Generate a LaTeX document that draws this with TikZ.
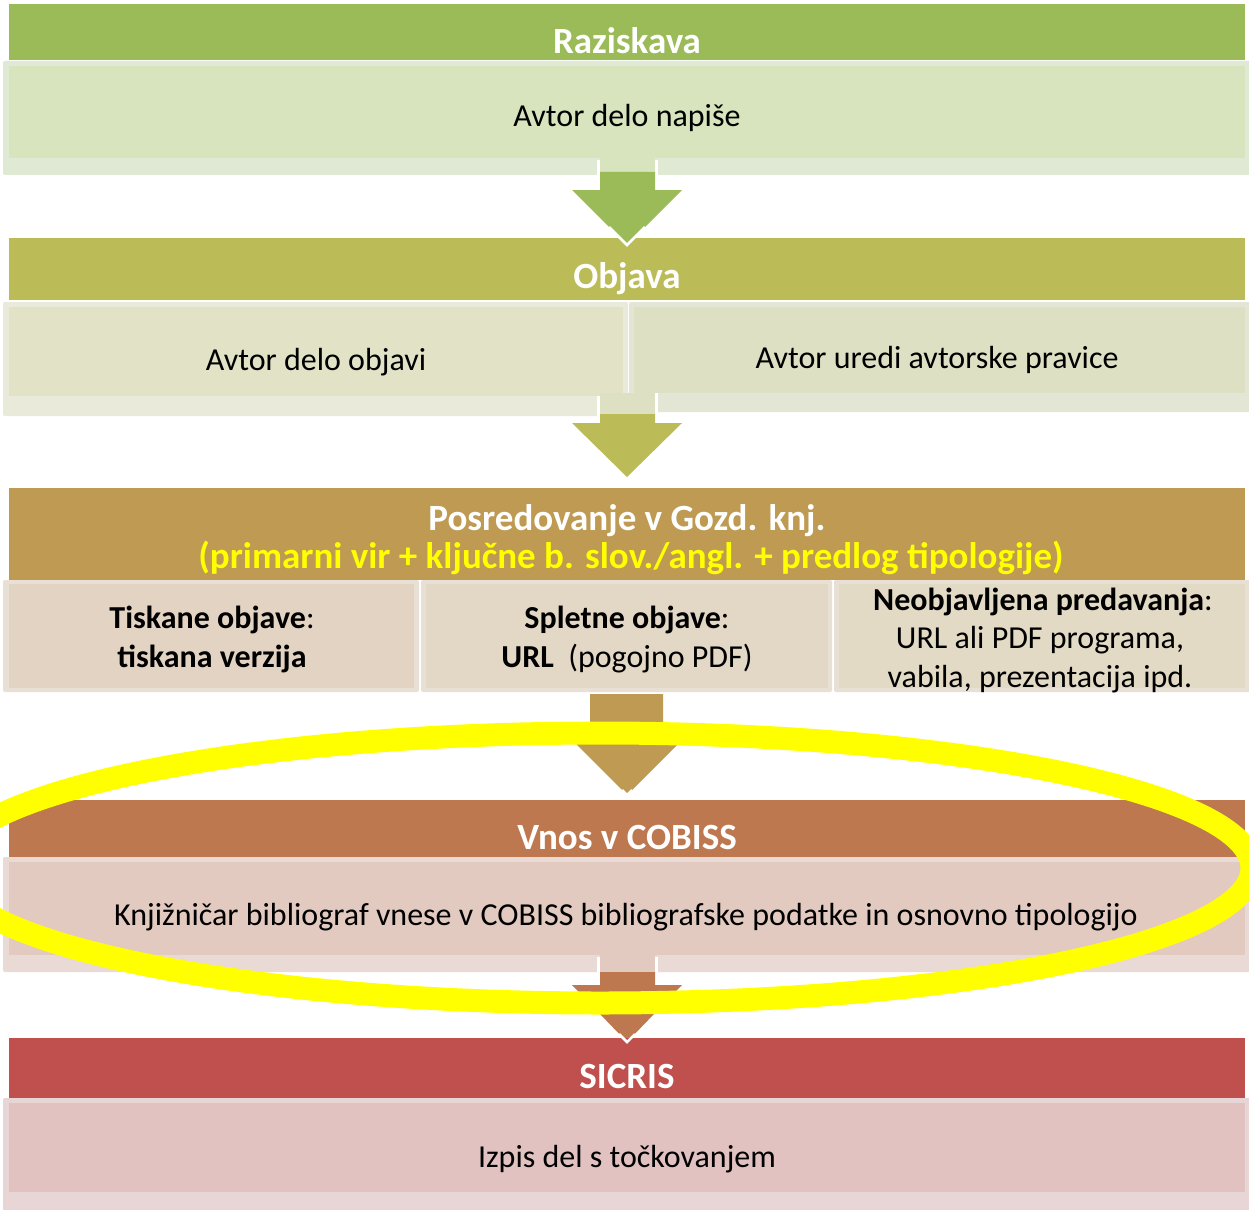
\documentclass[tikz,border=0pt]{standalone}
\usepackage{fontspec}
\setmainfont{Carlito}
\definecolor{gA}{HTML}{9BBB59}\definecolor{gAb}{HTML}{D7E4BD}\definecolor{gAl}{HTML}{E0E9D4}
\definecolor{oA}{HTML}{BBBC57}\definecolor{oAb}{HTML}{E2E3C6}\definecolor{oAl}{HTML}{E9EAD9}
\definecolor{oBb}{HTML}{DEE0C4}\definecolor{oBl}{HTML}{E4E6D5}
\definecolor{kA}{HTML}{BE9A52}\definecolor{kAb}{HTML}{E2D3C2}\definecolor{kAl}{HTML}{E9E0D5}
\definecolor{kBb}{HTML}{E3D8C6}\definecolor{kCb}{HTML}{E2DAC5}
\definecolor{cA}{HTML}{BE7850}\definecolor{cAb}{HTML}{E3CAC0}\definecolor{cAl}{HTML}{E9DAD5}
\definecolor{rA}{HTML}{C0504D}\definecolor{rAb}{HTML}{E1C2C1}\definecolor{rAl}{HTML}{E8D5D5}
\definecolor{hiyel}{HTML}{FFFF00}
\begin{document}
\begin{tikzpicture}[x=1pt,y=-1pt,
  hdrtxt/.style={text=white,inner sep=0pt,anchor=base,font=\fontsize{37}{44}\selectfont\bfseries},
  subtxt/.style={text=hiyel,inner sep=0pt,anchor=base,font=\fontsize{37}{44}\selectfont\bfseries},
  bodytxt/.style={text=black,inner sep=0pt,anchor=base,font=\fontsize{32}{39}\selectfont},
]
\useasboundingbox (0,0) rectangle (1249,1209);
\clip (0,0) rectangle (1249,1209);
\fill[white] (0,0) rectangle (1249,1209);

% ---------- 1 Raziskava
\fill[gA] (9,4) rectangle (1245,60);
\fill[gAl,rounded corners=2pt] (3,61) rectangle (1252,175);
\fill[gAb] (9,66) rectangle (1245,158);
\fill[gAb] (600,158) rectangle (655,172);
\fill[white] (597,160) rectangle (600,175);
\fill[white] (655,160) rectangle (658,175);
\node[hdrtxt] (t1) at (627,54) {Raziskava};
\node[bodytxt] (b1) at (627,127) {Avtor delo napiše};

% ---------- 2 Objava
\fill[oA] (9,238) rectangle (1245,300);
\fill[gA] (600,172) -- (655,172) -- (655,190) -- (682,190) -- (627,245) -- (572,190) -- (600,190) -- cycle;
\draw[white,line width=2.5pt] (645,227) -- (627,245) -- (609,227);
\fill[oAl,rounded corners=2pt] (3,302) rectangle (628,416);
\fill[oAb] (9,307) rectangle (623,396);
\fill[oBl,rounded corners=2pt] (629,302) rectangle (1252,412);
\fill[oBb] (634,307) rectangle (1245,393);
\fill[oBb] (600,393) rectangle (655,414);
\fill[white] (597,396) rectangle (600,416);
\fill[white] (655,393) rectangle (658,412);
\node[hdrtxt] (t2) at (627,288) {Objava};
\node[bodytxt] (b2a) at (316,370) {Avtor delo objavi};
\node[bodytxt] (b2b) at (937,368) {Avtor uredi avtorske pravice};

% ---------- 3 Posredovanje
\fill[oA] (600,414) -- (655,414) -- (655,423) -- (682,423) -- (627,477) -- (572,423) -- (600,423) -- cycle;
\fill[kA] (9,488) rectangle (1245,580);
\fill[kAl,rounded corners=2pt] (3,580) rectangle (419,692);
\fill[kAb] (9,584) rectangle (414,688);
\fill[kAl,rounded corners=2pt] (421,580) rectangle (832,692);
\fill[kBb] (426,584) rectangle (828,688);
\fill[kAl,rounded corners=2pt] (834,580) rectangle (1252,692);
\fill[kCb] (839,584) rectangle (1245,688);
\node[hdrtxt] (t3) at (627,530) {Posredovanje v Gozd. knj.};
\node[subtxt] (t3b) at (631,568) {(primarni vir + ključne b. slov./angl. + predlog tipologije)};
\node[bodytxt] (b3a1) at (212,628) {\textbf{Tiskane objave}:};
\node[bodytxt] (b3a2) at (212,667) {\textbf{tiskana verzija}};
\node[bodytxt] (b3b1) at (627,628) {\textbf{Spletne objave}:};
\node[bodytxt] (b3b2) at (627,667) {\textbf{URL}\ \ (pogojno PDF)};
\node[bodytxt] (b3c1) at (1043,610) {\textbf{Neobjavljena predavanja}:};
\node[bodytxt] (b3c2) at (1040,648) {URL ali PDF programa,};
\node[bodytxt] (b3c3) at (1040,687) {vabila, prezentacija ipd.};

% ---------- 4 Vnos v COBISS
\fill[kA] (590,694) -- (663,694) -- (663,740) -- (682,740) -- (627,795) -- (572,740) -- (590,740) -- cycle;
\fill[cA] (9,800) rectangle (1245,857);
\draw[white,line width=2.5pt] (632,790) -- (627,795) -- (622,790);
\fill[cAl,rounded corners=2pt] (3,857) rectangle (1252,972);
\fill[cAb] (9,862) rectangle (1245,955);
\fill[cAb] (600,955) rectangle (655,972);
\fill[white] (597,957) rectangle (600,972);
\fill[white] (655,957) rectangle (658,972);
\node[hdrtxt] (t4) at (627,849) {Vnos v COBISS};
\node[bodytxt] (b4) at (626,925) {Knjižničar bibliograf vnese v COBISS bibliografske podatke in osnovno tipologijo};

% ---------- 5 SICRIS
\fill[cA] (600,972) -- (655,972) -- (655,985) -- (682,985) -- (627,1042) -- (572,985) -- (600,985) -- cycle;
\fill[rA] (9,1038) rectangle (1245,1098);
\draw[white,line width=2.5pt] (635,1034) -- (627,1042) -- (619,1034);
\fill[rAl,rounded corners=2pt] (3,1098) rectangle (1252,1215);
\fill[rAb] (9,1103) rectangle (1245,1192);
\node[hdrtxt] (t5) at (627,1088) {SICRIS};
\node[bodytxt] (b5) at (627,1167) {Izpis del s točkovanjem};

% ---------- highlight ellipse
\draw[hiyel,line width=23pt] (600,868) ellipse [x radius=652, y radius=135];
\end{tikzpicture}
\end{document}
